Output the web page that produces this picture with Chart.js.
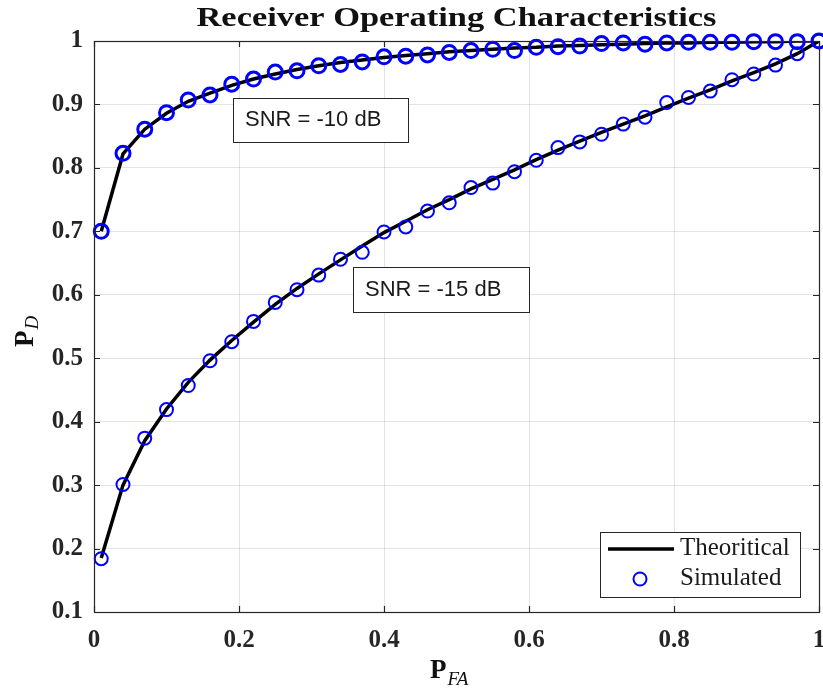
<!DOCTYPE html>
<html><head><meta charset="utf-8">
<script src="https://cdn.jsdelivr.net/npm/chart.js@4/dist/chart.umd.min.js"></script>
<style>html,body{margin:0;padding:0;background:#fff}canvas{display:block}</style>
</head><body>
<canvas id="c" width="823" height="688"></canvas>
<script>
// ---- data ----
const pfa = [0.01,0.04,0.07,0.10,0.13,0.16,0.19,0.22,0.25,0.28,0.31,0.34,0.37,0.40,0.43,0.46,0.49,0.52,0.55,0.58,0.61,0.64,0.67,0.70,0.73,0.76,0.79,0.82,0.85,0.88,0.91,0.94,0.97,1.00];
const pdTheory10 = [0.700,0.822,0.861,0.886,0.905,0.918,0.930,0.940,0.948,0.955,0.961,0.966,0.970,0.974,0.977,0.980,0.983,0.985,0.987,0.989,0.990,0.992,0.993,0.994,0.995,0.996,0.997,0.997,0.998,0.998,0.999,0.999,1.000,1.000];
const pdSim10    = [0.700,0.823,0.861,0.887,0.907,0.915,0.932,0.940,0.951,0.953,0.961,0.963,0.967,0.975,0.976,0.978,0.982,0.985,0.987,0.985,0.990,0.991,0.992,0.996,0.997,0.995,0.997,0.998,0.998,0.998,0.999,0.999,0.999,1.000];
const pdTheory15 = [0.185,0.300,0.370,0.420,0.462,0.497,0.528,0.557,0.585,0.610,0.633,0.655,0.677,0.698,0.716,0.734,0.750,0.767,0.782,0.797,0.813,0.828,0.842,0.856,0.869,0.882,0.896,0.910,0.923,0.937,0.950,0.964,0.980,1.000];
const pdSim15    = [0.184,0.301,0.374,0.419,0.457,0.496,0.526,0.558,0.588,0.608,0.631,0.656,0.667,0.699,0.707,0.732,0.745,0.769,0.776,0.794,0.812,0.832,0.841,0.853,0.869,0.880,0.903,0.911,0.921,0.939,0.948,0.962,0.980,1.000];
const xTicks = [0,0.2,0.4,0.6,0.8,1];
const xTickLabels = ['0','0.2','0.4','0.6','0.8','1'];
const yTicks = [0.1,0.2,0.3,0.4,0.5,0.6,0.7,0.8,0.9,1];
const yTickLabels = ['0.1','0.2','0.3','0.4','0.5','0.6','0.7','0.8','0.9','1'];
const titleText = 'Receiver Operating Characteristics';
const legendLabels = ['Theoritical','Simulated'];
const annotationTexts = ['SNR = -10 dB','SNR = -15 dB'];

// ---- layout / style (not data) ----
const annotationBoxes = [
  {x0:0.192, x1:0.433, y0:0.841, y1:0.910},
  {x0:0.357, x1:0.600, y0:0.573, y1:0.644}
];
const AX = '#262626';
const toXY = (xs, ys) => xs.map((v,i)=>({x:v, y:ys[i]}));

const deco = {
  id:'deco',
  afterDatasetsDraw(chart){
    const {ctx, scales:{x,y}} = chart;
    ctx.save();
    annotationBoxes.forEach((b,i)=>{
      const l=Math.round(x.getPixelForValue(b.x0)), r=Math.round(x.getPixelForValue(b.x1));
      const t=Math.round(y.getPixelForValue(b.y1)), bt=Math.round(y.getPixelForValue(b.y0));
      ctx.fillStyle='#fff'; ctx.fillRect(l,t,r-l,bt-t);
      ctx.strokeStyle=AX; ctx.lineWidth=1; ctx.strokeRect(l+0.5,t+0.5,r-l,bt-t);
      ctx.fillStyle='#1a1a1a'; ctx.font='22px "Liberation Sans"';
      ctx.textBaseline='middle'; ctx.textAlign='left';
      ctx.fillText(annotationTexts[i], l+12, (t+bt)/2);
    });
    ctx.restore();
  },
  afterDraw(chart){
    const {ctx, chartArea:a, scales:{x,y}} = chart;
    ctx.save();
    ctx.strokeStyle=AX; ctx.lineWidth=1.2;
    ctx.strokeRect(Math.round(a.left)+0.5, Math.round(a.top)+0.5, Math.round(a.right-a.left), Math.round(a.bottom-a.top));
    const tl=6;
    ctx.beginPath();
    xTicks.forEach(v=>{const px=Math.round(x.getPixelForValue(v))+0.5;
      ctx.moveTo(px,a.bottom); ctx.lineTo(px,a.bottom-tl);
      ctx.moveTo(px,a.top); ctx.lineTo(px,a.top+tl);});
    yTicks.forEach(v=>{const py=Math.round(y.getPixelForValue(v))+0.5;
      ctx.moveTo(a.left,py); ctx.lineTo(a.left+tl,py);
      ctx.moveTo(a.right,py); ctx.lineTo(a.right-tl,py);});
    ctx.stroke();

    // title
    ctx.fillStyle='#111';
    ctx.font='bold 27px "Liberation Serif"';
    const tw=ctx.measureText(titleText).width;
    ctx.save();
    ctx.translate((a.left+a.right)/2, 26);
    ctx.scale(520/tw,1);
    ctx.textAlign='center'; ctx.textBaseline='alphabetic';
    ctx.fillText(titleText,0,0);
    ctx.restore();

    // x axis label P_FA
    ctx.textAlign='left'; ctx.textBaseline='alphabetic';
    ctx.font='bold 27px "Liberation Serif"';
    ctx.fillText('P', 430, 678);
    const pw=ctx.measureText('P').width;
    ctx.font='italic 19px "Liberation Serif"';
    ctx.fillText('FA', 430+pw+1, 685);

    // y axis label P_D
    ctx.save();
    ctx.translate(33, 347);
    ctx.rotate(-Math.PI/2);
    ctx.font='bold 27px "Liberation Serif"';
    ctx.fillText('P', 0, 0);
    ctx.font='italic 19px "Liberation Serif"';
    ctx.fillText('D', pw+1, 5);
    ctx.restore();

    // legend
    const L={l:600,t:532,r:800,b:597};
    ctx.fillStyle='#fff'; ctx.fillRect(L.l,L.t,L.r-L.l,L.b-L.t);
    ctx.strokeStyle=AX; ctx.lineWidth=1; ctx.strokeRect(L.l+0.5,L.t+0.5,L.r-L.l,L.b-L.t);
    ctx.strokeStyle='#000'; ctx.lineWidth=3.5;
    ctx.beginPath(); ctx.moveTo(608,549); ctx.lineTo(674,549); ctx.stroke();
    ctx.strokeStyle='#0000ff'; ctx.lineWidth=2;
    ctx.beginPath(); ctx.arc(640,579,6.5,0,Math.PI*2); ctx.stroke();
    ctx.fillStyle='#1a1a1a'; ctx.font='25px "Liberation Serif"';
    ctx.textBaseline='middle';
    ctx.fillText(legendLabels[0], 680, 548);
    ctx.fillText(legendLabels[1], 680, 578);
    ctx.restore();
  }
};

const tickFont = {family:'"Liberation Serif"', size:25, weight:'bold'};
new Chart(document.getElementById('c'), {
  type:'scatter',
  data:{datasets:[
    {label:'Sim -10', data:toXY(pfa,pdSim10), showLine:false, pointRadius:7, pointHoverRadius:7,
     pointBorderWidth:3, borderColor:'#0000ff', pointBorderColor:'#0000ff', pointBackgroundColor:'rgba(0,0,0,0)', order:0, clip:false},
    {label:'Sim -15', data:toXY(pfa,pdSim15), showLine:false, pointRadius:6.5, pointHoverRadius:6.5,
     pointBorderWidth:2, borderColor:'#0000ff', pointBorderColor:'#0000ff', pointBackgroundColor:'rgba(0,0,0,0)', order:0, clip:false},
    {label:'Theory -10', data:toXY(pfa,pdTheory10), showLine:true, pointRadius:0, borderColor:'#000', borderWidth:3.5, tension:0, order:1},
    {label:'Theory -15', data:toXY(pfa,pdTheory15), showLine:true, pointRadius:0, borderColor:'#000', borderWidth:3.5, tension:0, order:1}
  ]},
  options:{
    responsive:false, animation:false, devicePixelRatio:1,
    layout:{padding:{top:41,right:4,left:0,bottom:0}, autoPadding:false},
    plugins:{legend:{display:false}, tooltip:{enabled:false}, title:{display:false}},
    scales:{
      x:{type:'linear', min:0, max:1,
        afterBuildTicks:s=>{s.ticks=xTicks.map(v=>({value:v}));},
        afterFit:s=>{s.height=76; s.paddingLeft=0; s.paddingRight=0;},
        ticks:{font:tickFont, color:'#262626', padding:14, maxRotation:0, autoSkip:false,
          callback:(v)=>{const i=xTicks.findIndex(t=>Math.abs(t-v)<1e-9); return i>=0?xTickLabels[i]:'';}},
        grid:{color:'rgba(38,38,38,0.13)', lineWidth:1, drawTicks:false},
        border:{display:false}},
      y:{type:'linear', min:0.1, max:1,
        afterBuildTicks:s=>{s.ticks=yTicks.map(v=>({value:v}));},
        afterFit:s=>{s.width=94; s.paddingTop=0; s.paddingBottom=0;},
        ticks:{font:tickFont, color:'#262626', padding:11, autoSkip:false,
          callback:(v)=>{const i=yTicks.findIndex(t=>Math.abs(t-v)<1e-9); return i>=0?yTickLabels[i]:'';}},
        grid:{color:'rgba(38,38,38,0.13)', lineWidth:1, drawTicks:false},
        border:{display:false}}
    }
  },
  plugins:[deco]
});
</script></body></html>
